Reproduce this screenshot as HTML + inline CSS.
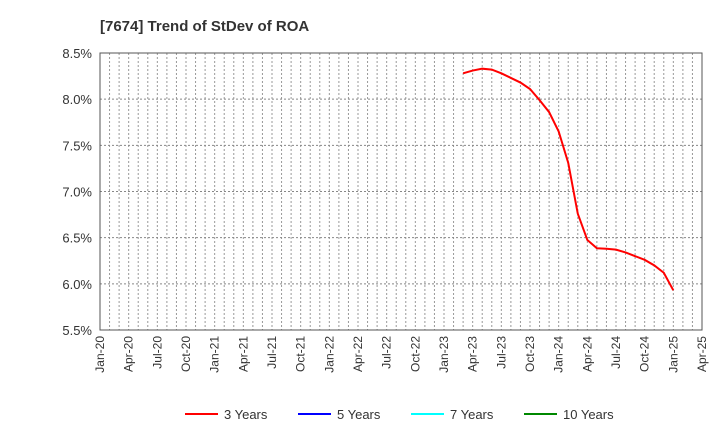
<!DOCTYPE html>
<html><head><meta charset="utf-8"><style>
body{margin:0;background:#fff;font-family:"Liberation Sans",sans-serif}
</style></head><body>
<svg id="c" width="720" height="440" xmlns="http://www.w3.org/2000/svg">
<text x="100" y="31" font-size="15" font-weight="bold" fill="#333">[7674]  Trend of StDev of ROA</text>
<g id="grid"></g><g id="axes"></g><g id="series"></g>
<g id="legend" font-size="13" fill="#333"></g>
</svg>
<script>
const yTicks=[5.5,6.0,6.5,7.0,7.5,8.0,8.5];
const xLabels=["Jan-20","Apr-20","Jul-20","Oct-20","Jan-21","Apr-21","Jul-21","Oct-21","Jan-22","Apr-22","Jul-22","Oct-22","Jan-23","Apr-23","Jul-23","Oct-23","Jan-24","Apr-24","Jul-24","Oct-24","Jan-25","Apr-25"];
const startMonth=38; // Mar-23, months since Jan-20
const values3=[8.28,8.31,8.33,8.32,8.28,8.23,8.18,8.11,7.99,7.86,7.65,7.31,6.76,6.475,6.385,6.38,6.37,6.34,6.30,6.26,6.20,6.12,5.93];
const L=100,R=702,T=53,B=330,NM=63;
const sx=m=>L+(R-L)*m/NM;
const sy=v=>B-(v-5.5)/3*(B-T);
const NS="http://www.w3.org/2000/svg";
function mk(p,t,a){const e=document.createElementNS(NS,t);for(const k in a)e.setAttribute(k,a[k]);p.appendChild(e);return e;}
const g=document.getElementById('grid'),ax=document.getElementById('axes'),se=document.getElementById('series');
for(let m=1;m<NM;m++){const l=mk(g,'line',{x1:sx(m),x2:sx(m),y1:T,y2:B,stroke:'#999','stroke-dasharray':'2,2','stroke-width':1});

}
yTicks.forEach(v=>{if(v>5.5&&v<8.5){const l=mk(g,'line',{x1:L,x2:R,y1:sy(v),y2:sy(v),stroke:'#888','stroke-dasharray':'2,2'});

}
const t=mk(ax,'text',{x:L-8,y:sy(v)+5,'text-anchor':'end','font-size':13,fill:'#333'});t.textContent=v.toFixed(1)+'%';

});
const fr=mk(ax,'rect',{x:L,y:T,width:R-L,height:B-T,fill:'none',stroke:'#555'});


xLabels.forEach((s,i)=>{const x=sx(i*3);const t=mk(ax,'text',{transform:`translate(${x+4},${B+6}) rotate(-90)`,'text-anchor':'end','font-size':12,fill:'#333'});t.textContent=s;

});
const pl=mk(se,'polyline',{points:values3.map((v,i)=>sx(startMonth+i)+','+sy(v)).join(' '),fill:'none',stroke:'#f00','stroke-width':2});


const leg=[["3 Years","#f00",185],["5 Years","#00f",298],["7 Years","#0ff",411],["10 Years","#080",524]];
const lg=document.getElementById('legend');
leg.forEach(([n,c,x])=>{const gg=mk(lg,'g',{});


mk(gg,'line',{x1:x,x2:x+33,y1:414,y2:414,stroke:c,'stroke-width':2});
const t=mk(gg,'text',{x:x+39,y:419});t.textContent=n;});
</script>
</body></html>
